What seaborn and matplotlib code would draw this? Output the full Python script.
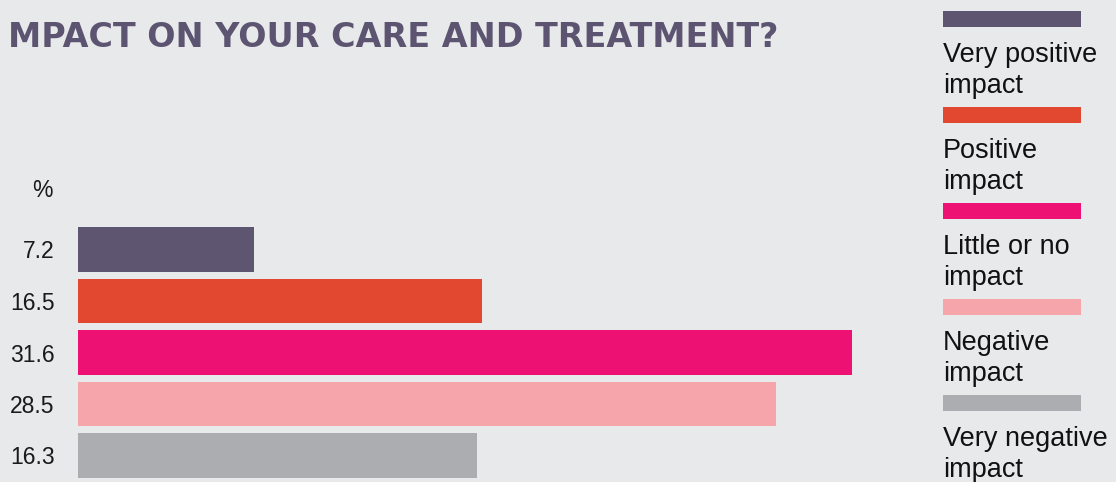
import matplotlib
matplotlib.use("Agg")
import matplotlib.pyplot as plt
from matplotlib.patches import Rectangle
import seaborn as sns
import pandas as pd

# Survey responses: share of respondents (%) for each kind of impact
categories = ["Very positive\nimpact", "Positive\nimpact", "Little or no\nimpact",
              "Negative\nimpact", "Very negative\nimpact"]
values = [7.2, 16.5, 31.6, 28.5, 16.3]
colors = ["#5e5670", "#e2472f", "#ee1174", "#f6a5ab", "#acadb1"]
title = "MPACT ON YOUR CARE AND TREATMENT?"

bg = "#e8e9eb"
sns.set_theme(style="white", rc={"figure.facecolor": bg, "axes.facecolor": bg})
plt.rcParams["font.family"] = ["Liberation Sans", "DejaVu Sans"]

W, H = 1116, 482
fig = plt.figure(figsize=(W / 100, H / 100), dpi=100)

df = pd.DataFrame({"category": categories, "value": values})

# bar panel
ax = fig.add_axes([78 / W, 1 - 481.25 / H, (34 * 24.5) / W, (481.25 - 223.75) / H])
sns.barplot(data=df, x="value", y="category", hue="category", palette=colors,
            order=categories, hue_order=categories, legend=False, width=0.87,
            saturation=1, linewidth=0, edgecolor="none", ax=ax)
ax.set_xlim(0, 34)
ax.set_ylim(4.5, -0.5)
ax.set_xlabel("")
ax.set_ylabel("")
ax.set_xticks([])
ax.set_yticks(range(len(values)), labels=[f"{v:.1f}" for v in values])
ax.tick_params(axis="y", length=0, pad=17, labelsize=16.5, labelcolor="#1a1a1a")
for s in ax.spines.values():
    s.set_visible(False)
ax.text(-25 / 24.5, -1.15, "%", ha="right", va="center", fontsize=16.5,
        color="#1a1a1a", transform=ax.transData, clip_on=False)

# title
fig.text(8 / W, 1 - 47 / H, title, ha="left", va="baseline", fontsize=24,
         fontweight="bold", color="#5c5470", family=["DejaVu Sans"])

# legend panel: coloured strip above each two-line label
lax = fig.add_axes([943 / W, 0, (W - 943) / W, 1])
lax.set_xlim(0, W - 943)
lax.set_ylim(H, 0)
lax.axis("off")
for i, (lab, col) in enumerate(zip(categories, colors)):
    top = 11 + 96 * i
    lax.add_patch(Rectangle((0, top), 138, 16, facecolor=col, edgecolor="none"))
    for j, line in enumerate(lab.split("\n")):
        lax.text(0, top + 51 + 31 * j, line, ha="left", va="baseline",
                 fontsize=19.5, color="#111111")

fig.savefig("out.png", dpi=100, facecolor=bg)
